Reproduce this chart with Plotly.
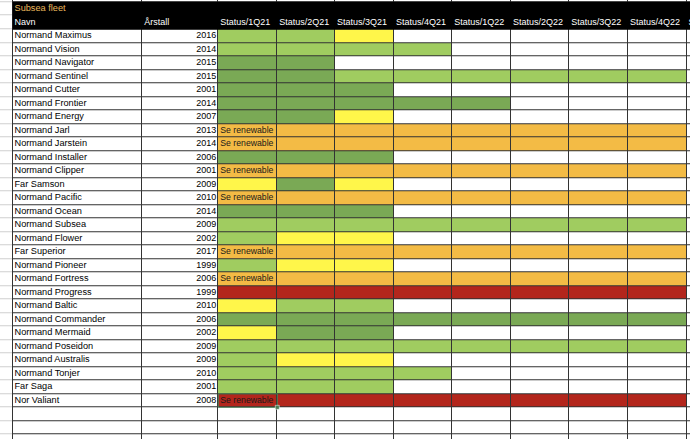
import plotly.graph_objects as go

# Subsea fleet - status per kvartal (regnearkutsnitt)
tittel = 'Subsea fleet'
kolonner = ['Navn', 'Årstall']
kvartaler = ['Status/1Q21', 'Status/2Q21', 'Status/3Q21', 'Status/4Q21',
             'Status/1Q22', 'Status/2Q22', 'Status/3Q22', 'Status/4Q22']
neste_kolonne = 'Status/1Q23'  # kuttes i høyre kant

navn = ['Normand Maximus', 'Normand Vision', 'Normand Navigator', 'Normand Sentinel',
        'Normand Cutter', 'Normand Frontier', 'Normand Energy', 'Normand Jarl',
        'Normand Jarstein', 'Normand Installer', 'Normand Clipper', 'Far Samson',
        'Normand Pacific', 'Normand Ocean', 'Normand Subsea', 'Normand Flower',
        'Far Superior', 'Normand Pioneer', 'Normand Fortress', 'Normand Progress',
        'Normand Baltic', 'Normand Commander', 'Normand Mermaid', 'Normand Poseidon',
        'Normand Australis', 'Normand Tonjer', 'Far Saga', 'Nor Valiant']
aarstall = [2016, 2014, 2015, 2015, 2001, 2014, 2007, 2013, 2014, 2006, 2001, 2009,
            2010, 2014, 2009, 2002, 2017, 1999, 2006, 1999, 2010, 2006, 2002, 2009,
            2009, 2010, 2001, 2008]
# G = lys grønn, D = mørk grønn, Y = gul, O = oransje, R = rød, - = tom
status = ['GGY-----', 'GGGG----', 'DD------', 'DDGGGGGG', 'DDD-----', 'DDDDD---',
          'DDY-----', 'OOOOOOOO', 'OOOOOOOO', 'DDD-----', 'OOOOOOOO', 'YDY-----',
          'OOOOOOOO', 'DDD-----', 'GGGGGGGG', 'GYY-----', 'OOOOOOOO', 'GYY-----',
          'OOOOOOOO', 'RRRRRRRR', 'YGG-----', 'DDDDDDDD', 'YDD-----', 'GGGGGGGG',
          'GYY-----', 'GGGG----', 'GGG-----', 'RRRRRRRR']
merknad = ['', '', '', '', '', '', '', 'Se renewable', 'Se renewable', '', 'Se renewable', '',
           'Se renewable', '', '', '', 'Se renewable', '', 'Se renewable', '', '', '', '', '',
           '', '', '', 'Se renewable']

farger = {'-': '#ffffff', 'G': '#a0cc60', 'D': '#7aa955', 'Y': '#fff64a',
          'O': '#f3bb45', 'R': '#b3261c'}
koder = list(farger.keys())

# geometri (piksler)
kol_kanter = [0, 12.5, 142.3, 218.3, 277.3, 335, 394, 452.3, 511, 569.3, 628, 686.5, 745]
rad_h = 13.5
topp_header = 1.7
topp_data = 29.3
n_tomme = 3

rad_kanter = [topp_header - rad_h, topp_header, 15.5, topp_data]
for k in range(1, len(navn) + n_tomme + 1):
    rad_kanter.append(topp_data + k * rad_h)

n_kol = len(kol_kanter) - 1
z = [[0] * n_kol for _ in range(3)]
for s in status:
    z.append([0, 0, 0] + [koder.index(c) for c in s] + [0])
for _ in range(n_tomme):
    z.append([0] * n_kol)

n = len(koder)
skala = []
for i, c in enumerate(koder):
    skala += [[i / n, farger[c]], [(i + 1) / n, farger[c]]]

fig = go.Figure()

fig.add_trace(go.Heatmap(
    x=kol_kanter, y=rad_kanter, z=z, zmin=-0.5, zmax=n - 0.5,
    colorscale=skala, showscale=False, xgap=1, ygap=1, hoverinfo='skip'
))

# svart overskriftsfelt
fig.add_trace(go.Heatmap(
    x=[kol_kanter[1], kol_kanter[-1]], y=[topp_header, topp_data], z=[[1]],
    colorscale=[[0, 'black'], [1, 'black']], showscale=False, hoverinfo='skip'
))

midt = [topp_data + (i + 0.5) * rad_h for i in range(len(navn))]
skrift = 'Liberation Sans'

fig.add_trace(go.Scatter(
    x=[kol_kanter[1] + 2] * len(navn), y=midt, text=navn, mode='text',
    textposition='middle right', textfont=dict(family=skrift, size=9.2, color='black'),
    hoverinfo='skip'
))
fig.add_trace(go.Scatter(
    x=[kol_kanter[3] - 2] * len(navn), y=midt, text=[str(a) for a in aarstall], mode='text',
    textposition='middle left', textfont=dict(family=skrift, size=9, color='black'),
    hoverinfo='skip'
))
fig.add_trace(go.Scatter(
    x=[kol_kanter[3] + 2] * len(navn), y=midt, text=merknad, mode='text',
    textposition='middle right', textfont=dict(family=skrift, size=8.7, color='#1a1a1a'),
    hoverinfo='skip'
))

# overskrifter
h1 = (topp_header + 15.5) / 2
h2 = (15.5 + topp_data) / 2
overskrift = kolonner + kvartaler + [neste_kolonne]
fig.add_trace(go.Scatter(
    x=[kol_kanter[i + 1] + 2 for i in range(len(overskrift))], y=[h2] * len(overskrift),
    text=overskrift, mode='text', textposition='middle right',
    textfont=dict(family=skrift, size=9, color='white'), hoverinfo='skip'
))
fig.add_trace(go.Scatter(
    x=[kol_kanter[1] + 2], y=[h1], text=[tittel], mode='text', textposition='middle right',
    textfont=dict(family=skrift, size=9.2, color='#eab85c'), hoverinfo='skip'
))

# markert celle (Nor Valiant, 1Q21)
r = len(navn) - 1
x0, x1 = kol_kanter[3], kol_kanter[4]
y0, y1 = topp_data + r * rad_h, topp_data + (r + 1) * rad_h
fig.add_shape(type='rect', x0=x0, x1=x1, y0=y0, y1=y1,
              line=dict(color='#4a7d54', width=1))
fig.add_shape(type='rect', x0=x1 - 2, x1=x1 + 2, y0=y1 - 2, y1=y1 + 2,
              fillcolor='#4a7d54', line=dict(color='white', width=0.5))

# lys grå rutenett i radhode-kolonnen
fig.add_shape(type='rect', x0=0, x1=12, y0=rad_kanter[0], y1=rad_kanter[-1],
              fillcolor='#cfcfcf', line_width=0, layer='below')

fig.update_xaxes(range=[0, 690], visible=False, fixedrange=True)
fig.update_yaxes(range=[439, 0], visible=False, fixedrange=True)
fig.update_layout(
    width=690, height=439, margin=dict(l=0, r=0, t=0, b=0),
    plot_bgcolor='#333333', paper_bgcolor='white', showlegend=False
)

# siden har 8 px standardmarg rundt body
fig.write_html('out.html', config={'displayModeBar': False},
               post_script="document.body.style.margin='0';")
